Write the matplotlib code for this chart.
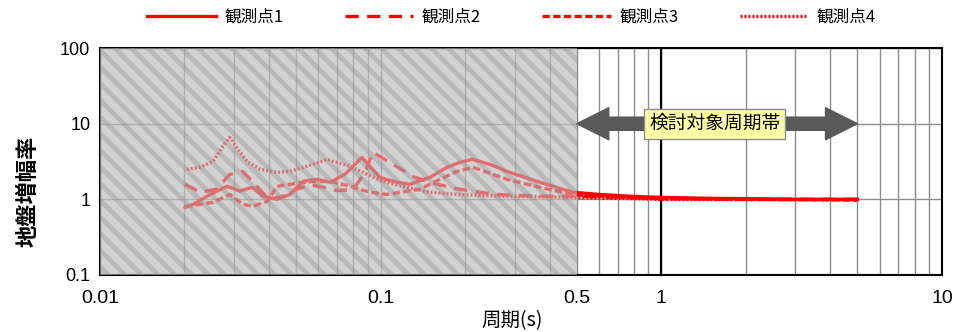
import matplotlib
matplotlib.use("Agg")
import matplotlib.pyplot as plt
import numpy as np
from matplotlib.patches import Rectangle
from matplotlib.ticker import LogLocator, NullFormatter, NullLocator

plt.rcParams['font.family'] = ['Noto Sans CJK JP', 'DejaVu Sans']
plt.rcParams['hatch.linewidth'] = 3.5

p1 = [0.0201, 0.0215, 0.0247, 0.0284, 0.0315, 0.0348, 0.0381, 0.0427, 0.0475, 0.0529,
      0.0593, 0.066, 0.0746, 0.0858, 0.0994, 0.1143, 0.1272, 0.1498, 0.1723, 0.1916,
      0.2115, 0.2451, 0.2818, 0.3694, 0.4843, 0.6, 0.8, 1.0, 1.5, 2.0, 3.0, 5.0]
v1 = [0.78, 0.86, 1.16, 1.49, 1.28, 1.44, 1.10, 1.0, 1.16, 1.73,
      1.84, 1.68, 2.14, 3.59, 1.95, 1.68, 1.58, 1.95, 2.65, 3.08,
      3.38, 2.9, 2.34, 1.68, 1.24, 1.16, 1.09, 1.06, 1.03, 1.02, 1.0, 1.0]

p2 = [0.0201, 0.0228, 0.026, 0.029, 0.0323, 0.0362, 0.04, 0.045, 0.05, 0.056, 0.062,
      0.07, 0.08, 0.088, 0.0939, 0.1106, 0.1303, 0.1498, 0.1766, 0.1916, 0.2132, 0.2596,
      0.3694, 0.4843, 0.6, 0.8, 1.0, 2.0, 5.0]
v2 = [1.58, 1.24, 1.36, 2.14, 2.34, 1.48, 1.0, 1.1, 1.35, 1.55, 1.45,
      1.3, 1.35, 2.3, 4.2, 2.9, 2.0, 1.68, 1.44, 1.36, 1.28, 1.16,
      1.1, 1.1, 1.08, 1.05, 1.03, 1.0, 1.0]

p3 = [0.0201, 0.0253, 0.029, 0.0323, 0.0351, 0.0394, 0.0427, 0.0475, 0.055, 0.066,
      0.0778, 0.0916, 0.1053, 0.138, 0.1627, 0.187, 0.2132, 0.2818, 0.3694, 0.4843,
      0.6, 0.8, 1.0, 2.0, 5.0]
v3 = [0.8, 0.91, 1.16, 0.86, 0.81, 0.94, 1.48, 1.58, 1.7, 1.73,
      1.49, 1.24, 1.16, 1.36, 1.84, 2.34, 2.65, 1.84, 1.44, 1.16,
      1.1, 1.05, 1.02, 1.0, 0.98]

p4 = [0.0204, 0.0227, 0.0253, 0.0274, 0.029, 0.031, 0.0334, 0.0372, 0.0427, 0.0475,
      0.0547, 0.0644, 0.0778, 0.0865, 0.1019, 0.1241, 0.1498, 0.187, 0.2818, 0.4843,
      0.6, 0.8, 1.0, 2.0, 5.0]
v4 = [2.49, 2.65, 3.18, 5.0, 6.6, 4.6, 3.18, 2.49, 2.27, 2.34,
      2.73, 3.38, 2.73, 2.27, 1.73, 1.44, 1.24, 1.16, 1.1, 1.06,
      1.04, 1.02, 1.0, 0.99, 0.98]

labels = ['観測点1', '観測点2', '観測点3', '観測点4']
styles = ['-', (0, (4, 2.5)), (0, (2.2, 1)), (0, (0.6, 0.6))]

xticks = [0.01, 0.1, 0.5, 1, 10]
xticklabels = ['0.01', '0.1', '0.5', '1', '10']
yticks = [0.1, 1, 10, 100]
yticklabels = ['0.1', '1', '10', '100']

fig = plt.figure(figsize=(9.67, 3.32), dpi=100)
ax = fig.add_axes([0.1034, 0.172, 0.8707, 0.683])
ax.set_xscale('log')
ax.set_yscale('log')
ax.set_xlim(0.01, 10)
ax.set_ylim(0.1, 100)

# grid
ax.xaxis.set_minor_locator(LogLocator(base=10, subs=np.arange(2, 10)))
ax.xaxis.set_minor_formatter(NullFormatter())
ax.yaxis.set_minor_locator(NullLocator())
ax.grid(True, which='major', color='#8c8c8c', lw=1.0, zorder=1)
ax.grid(True, which='minor', axis='x', color='#8c8c8c', lw=1.0, zorder=1)
ax.axvline(1, color='black', lw=1.6, zorder=2)
ax.set_axisbelow(True)

# shaded band background (under the curves)
ax.add_patch(Rectangle((0.01, 0.1), 0.49, 99.9, facecolor='#d0d0d0', edgecolor='none', zorder=0.5))

handles = []
for p, v, ls, lab in zip([p1, p2, p3, p4], [v1, v2, v3, v4], styles, labels):
    h, = ax.plot(p, v, color='red', lw=2.4, ls=ls, zorder=3, label=lab)
    handles.append(h)

# hatched overlay makes the curves pale inside the band
ax.add_patch(Rectangle((0.01, 0.1), 0.49, 99.9, facecolor=(0.83, 0.83, 0.83, 0.5),
                       edgecolor='none', lw=0, zorder=4))
ax.add_patch(Rectangle((0.01, 0.1), 0.49, 99.9, facecolor='none',
                       edgecolor=(0.55, 0.55, 0.55, 0.35), hatch='\\' * 2, lw=0, zorder=4.1))

# double arrow + label
for x_end in [0.5, 5.0]:
    ax.annotate('', xy=(x_end, 10), xytext=(1.55, 10),
                arrowprops=dict(arrowstyle='simple,head_width=2.3,head_length=2.3,tail_width=0.95',
                                mutation_scale=10, color='#595959', shrinkA=0, shrinkB=0),
                zorder=5)
ax.text(1.55, 10, '検討対象周期帯', ha='center', va='center', fontsize=13.5, zorder=6,
        bbox=dict(boxstyle='square,pad=0.25', facecolor='#ffffa6', edgecolor='#8c8c8c', lw=1))

ax.set_xticks(xticks)
ax.set_xticklabels(xticklabels, fontsize=14, family=['Liberation Sans Narrow', 'Liberation Sans'])
ax.set_yticks(yticks)
ax.set_yticklabels(yticklabels, fontsize=13, family=['Liberation Sans'])
ax.tick_params(which='both', length=0)
ax.tick_params(axis='x', pad=11)
ax.tick_params(axis='y', pad=7)

for s in ax.spines.values():
    s.set_linewidth(1.5)
    s.set_color('black')

ax.set_xlabel('周期(s)', fontsize=14)
ax.xaxis.set_label_coords(0.489, -0.155)
ax.set_ylabel('地盤増幅率', fontsize=16, fontweight='bold')
ax.yaxis.set_label_coords(-0.072, 0.37)

fig.legend(handles=handles, labels=labels, loc='center', bbox_to_anchor=(0.529, 0.949),
           ncol=4, frameon=False, fontsize=12, handlelength=4.1, columnspacing=3.7,
           handletextpad=0.5)

fig.savefig('out.png', dpi=100)
